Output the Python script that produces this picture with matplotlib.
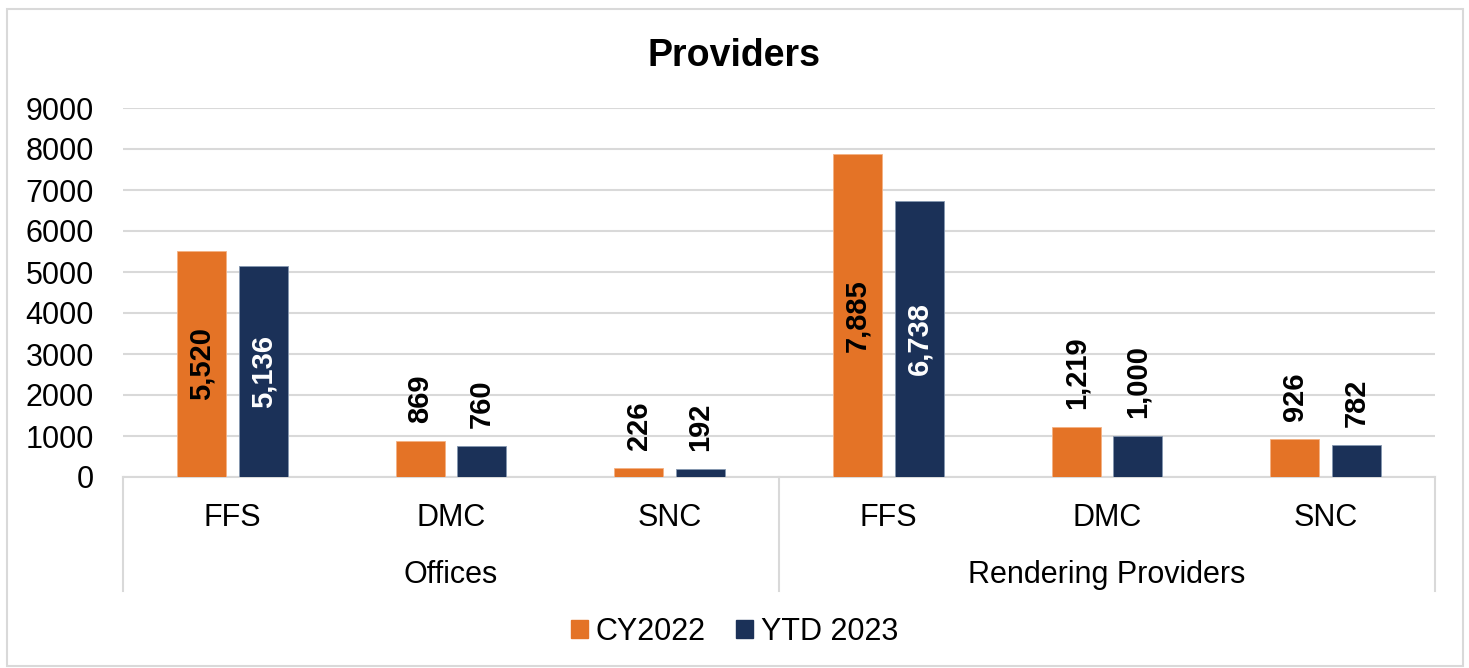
import matplotlib.pyplot as plt
from matplotlib.patches import Rectangle
from matplotlib.lines import Line2D

plt.rcParams["font.family"] = ["Liberation Sans", "DejaVu Sans"]

groups = ["Offices", "Rendering Providers"]
categories = ["FFS", "DMC", "SNC", "FFS", "DMC", "SNC"]
cy2022 = [5520, 869, 226, 7885, 1219, 926]
ytd2023 = [5136, 760, 192, 6738, 1000, 782]
series_names = ["CY2022", "YTD 2023"]

orange = "#E47326"
navy = "#1B3158"
grid_gray = "#D9D9D9"

fig = plt.figure(figsize=(14.69, 6.68), dpi=100)
ax = fig.add_axes([123 / 1469, 191 / 668, 1312 / 1469, 369 / 668])

x = list(range(len(categories)))
w = 0.224
off = 0.141
b1 = ax.bar([i - off for i in x], cy2022, w, color=orange, edgecolor="#F4B183", linewidth=0.6, zorder=3)
b2 = ax.bar([i + off for i in x], ytd2023, w, color=navy, edgecolor="#8497B0", linewidth=0.6, zorder=3)

ax.set_xlim(-0.5, len(categories) - 0.5)
ax.set_ylim(0, 9000)
ax.set_yticks(range(0, 9001, 1000))
ax.tick_params(axis="y", length=0, pad=21, labelsize=22)
ax.set_xticks([])
ax.grid(axis="y", color=grid_gray, linewidth=1.5, zorder=0)
for s in ["top", "right", "left"]:
    ax.spines[s].set_visible(False)
ax.spines["bottom"].set_color(grid_gray)
ax.spines["bottom"].set_linewidth(1.5)

# data labels: big bars get them inside, the rest above the bar
for bars, vals, incolor in [(b1, cy2022, "black"), (b2, ytd2023, "white")]:
    for rect, v in zip(bars, vals):
        cx = rect.get_x() + rect.get_width() / 2
        if v > 3000:
            ax.text(cx, v / 2, f"{v:,}", rotation=90, ha="center", va="center",
                    fontsize=21, fontweight="bold", color=incolor, zorder=4)
        else:
            ax.annotate(f"{v:,}", (cx, v), xytext=(0, 13), textcoords="offset points",
                        rotation=90, ha="center", va="bottom",
                        fontsize=21, fontweight="bold", color="black")

# multi-level category axis
trans = ax.get_xaxis_transform()
for i, c in enumerate(categories):
    ax.text(i, -0.111, c, transform=trans, ha="center", va="center", fontsize=22)
n = len(categories) // len(groups)
for g, name in enumerate(groups):
    ax.text(g * n + (n - 1) / 2, -0.266, name, transform=trans, ha="center", va="center", fontsize=22)
for k in range(len(groups) + 1):
    xs = k * n - 0.5
    ax.add_line(Line2D([xs, xs], [0, -0.309], transform=trans, color=grid_gray,
                       linewidth=1.5, clip_on=False))

fig.suptitle("Providers", fontsize=27, fontweight="bold", x=0.5, y=1 - 56 / 668, va="center")

handles = [Rectangle((0, 0), 1, 1, color=orange), Rectangle((0, 0), 1, 1, color=navy)]
fig.legend(handles, series_names, loc="center", bbox_to_anchor=(0.5, 36 / 668), ncol=2,
           frameon=False, fontsize=22, handlelength=0.55, handleheight=0.55,
           handletextpad=0.26, columnspacing=1.0)

fig.add_artist(Rectangle((7 / 1469, 2 / 668), 1456 / 1469, 657 / 668, transform=fig.transFigure,
                         fill=False, edgecolor=grid_gray, linewidth=1.5))

fig.savefig("out.png", dpi=100)
